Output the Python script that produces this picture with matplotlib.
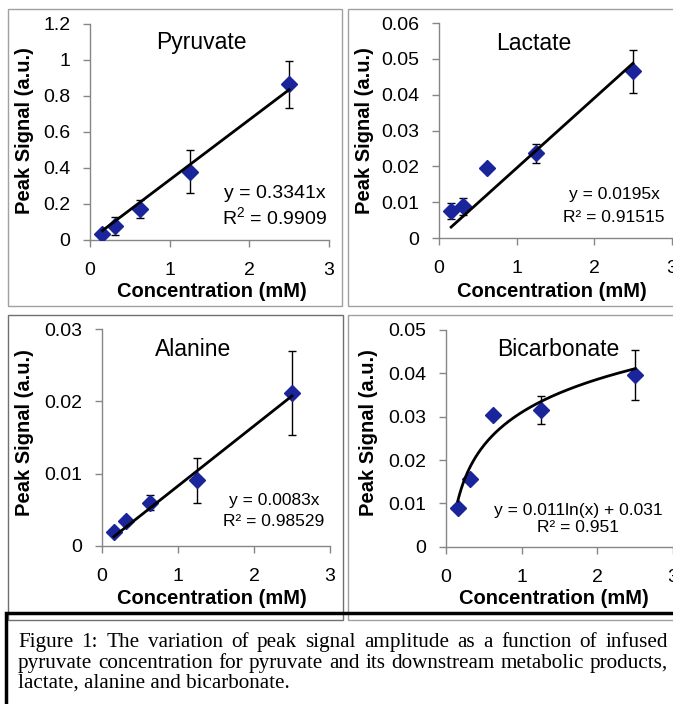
import matplotlib
matplotlib.use("Agg")
import matplotlib.pyplot as plt
import numpy as np
from matplotlib.patches import Rectangle
from matplotlib.ticker import FuncFormatter

plt.rcParams["font.family"] = ["Liberation Sans", "DejaVu Sans"]
plt.rcParams["mathtext.default"] = "regular"

# Data
conc = [0.156, 0.3125, 0.625, 1.25, 2.5]

pyruvate = [0.035, 0.08, 0.17, 0.38, 0.865]
pyruvate_err = [0.015, 0.05, 0.05, 0.12, 0.13]
lactate = [0.0076, 0.0089, 0.0194, 0.0236, 0.0466]
lactate_err = [0.0023, 0.0024, 0.0003, 0.0026, 0.006]
alanine = [0.0019, 0.0034, 0.006, 0.0091, 0.0211]
alanine_err = [0.0003, 0.0005, 0.001, 0.0031, 0.0058]
bicarb = [0.009, 0.0156, 0.0303, 0.0315, 0.0396]
bicarb_err = [0.0003, 0.0005, 0.0003, 0.0032, 0.0058]

# trendline coefficients as printed on the chart
slopes = {"Pyruvate": 0.3341, "Lactate": 0.0195, "Alanine": 0.0083}
log_a, log_b = 0.011, 0.031

caption = ["Figure 1: The variation of peak signal amplitude as a function of infused",
           "pyruvate concentration for pyruvate and its downstream metabolic products,",
           "lactate, alanine and bicarbonate."]

W, H = 673, 704
fig = plt.figure(figsize=(W / 100, H / 100), dpi=100)

def fx(px):
    return px / W

def fy(py):
    return 1 - py / H

def axbox(x0, y0, x1, y1):
    return [fx(x0), fy(y1), (x1 - x0) / W, (y1 - y0) / H]

blue = "#1a259c"
grey = "#868686"

# panel frames
for (x0, y0, x1, y1), c in [((8, 9, 342, 306), "#a0a0a0"), ((348, 9, 690, 306), "#a0a0a0"),
                            ((8, 315, 343, 620), "#707070"), ((348, 315, 690, 620), "#a0a0a0")]:
    fig.patches.append(Rectangle((fx(x0), fy(y1)), (x1 - x0) / W, (y1 - y0) / H,
                                 transform=fig.transFigure, fill=False, ec=c, lw=1))

panels = [
    # box, y, err, ymax, ystep, title, title xy, eq lines, eq xy, eq size, ylabel xy, xlabel xy
    ((90, 24, 329, 240), pyruvate, pyruvate_err, 1.2, 0.2, "Pyruvate", (201, 43),
     ["y = 0.3341x", "$R^2$ = 0.9909"], (275, 193, 217), 14, (25, 131), (212, 292)),
    ((439, 23, 671.7, 238), lactate, lactate_err, 0.06, 0.01, "Lactate", (534, 43),
     ["y = 0.0195x", "R² = 0.91515"], (614, 195, 217), 12.5, (365, 131), (552, 291)),
    ((102, 329, 330, 546), alanine, alanine_err, 0.03, 0.01, "Alanine", (193, 350),
     ["y = 0.0083x", "R² = 0.98529"], (274, 500, 521), 12.5, (25, 433), (212, 598)),
    ((446, 330, 673, 546.7), bicarb, bicarb_err, 0.05, 0.01, "Bicarbonate", (558, 349),
     ["y = 0.011ln(x) + 0.031", "R² = 0.951"], (578, 510, 528), 12.5, (369, 433), (554, 599)),
]

for box, y, err, ymax, ystep, title, txy, eq, exy, esize, ylxy, xlxy in panels:
    ax = fig.add_axes(axbox(*box))
    ax.set_facecolor("none")
    ax.errorbar(conc, y, yerr=err, fmt="none", ecolor="black", elinewidth=1,
                capsize=3, capthick=1, zorder=2)
    ax.plot(conc, y, "D", color=blue, ms=8, mec=blue, zorder=3)
    if title in slopes:
        xs = np.array([conc[0], conc[-1]])
        ax.plot(xs, slopes[title] * xs, color="black", lw=2, zorder=4)
    else:
        xs = np.linspace(conc[0], conc[-1], 200)
        ax.plot(xs, log_a * np.log(xs) + log_b, color="black", lw=2, zorder=4)

    ax.set_xlim(0, 3)
    ax.set_ylim(0, ymax)
    ax.set_xticks([0, 1, 2, 3])
    ax.set_yticks(np.round(np.arange(0, ymax + ystep / 2, ystep), 4))
    ax.yaxis.set_major_formatter(FuncFormatter(lambda v, p: "%g" % v))
    for s in ["top", "right"]:
        ax.spines[s].set_visible(False)
    for s in ["left", "bottom"]:
        ax.spines[s].set_color(grey)
        ax.spines[s].set_linewidth(1)
    ax.tick_params(direction="out", length=5, width=1, color=grey, labelsize=14)
    ax.tick_params(axis="x", pad=11)
    ax.tick_params(axis="y", pad=9)

    x0, y0, x1, y1 = box
    ax.set_ylabel("Peak Signal (a.u.)", fontsize=14.5, fontweight="bold", va="center")
    ax.yaxis.set_label_coords((ylxy[0] - x0) / (x1 - x0), (y1 - ylxy[1]) / (y1 - y0))
    ax.set_xlabel("Concentration (mM)", fontsize=14.5, fontweight="bold", va="center")
    ax.xaxis.set_label_coords((xlxy[0] - x0) / (x1 - x0), (y1 - xlxy[1]) / (y1 - y0))

    fig.text(fx(txy[0]), fy(txy[1]), title, fontsize=16.5, ha="center", va="center")
    fig.text(fx(exy[0]), fy(exy[1]), eq[0], fontsize=esize, ha="center", va="center")
    fig.text(fx(exy[0]), fy(exy[2]), eq[1], fontsize=esize, ha="center", va="center")

# caption box
fig.patches.append(Rectangle((fx(6), fy(720)), (690 - 6) / W, (720 - 613) / H,
                             transform=fig.transFigure, fill=False, ec="black", lw=2.5,
                             zorder=5))

cap_font = dict(fontsize=15.2, family=["Liberation Serif", "DejaVu Serif"], va="baseline")
renderer = fig.canvas.get_renderer()
left, right = 18, 668
baselines = [647, 668, 688]
for i, line in enumerate(caption):
    if i == len(caption) - 1:
        fig.text(fx(left), fy(baselines[i]), line, **cap_font)
        continue
    words = line.split()
    texts = [fig.text(0, fy(baselines[i]), w, **cap_font) for w in words]
    widths = [t.get_window_extent(renderer=renderer).width for t in texts]
    gap = (right - left - sum(widths)) / (len(words) - 1)
    x = left
    for t, w in zip(texts, widths):
        t.set_x(fx(x))
        x += w + gap

fig.savefig("out.png", dpi=100)
